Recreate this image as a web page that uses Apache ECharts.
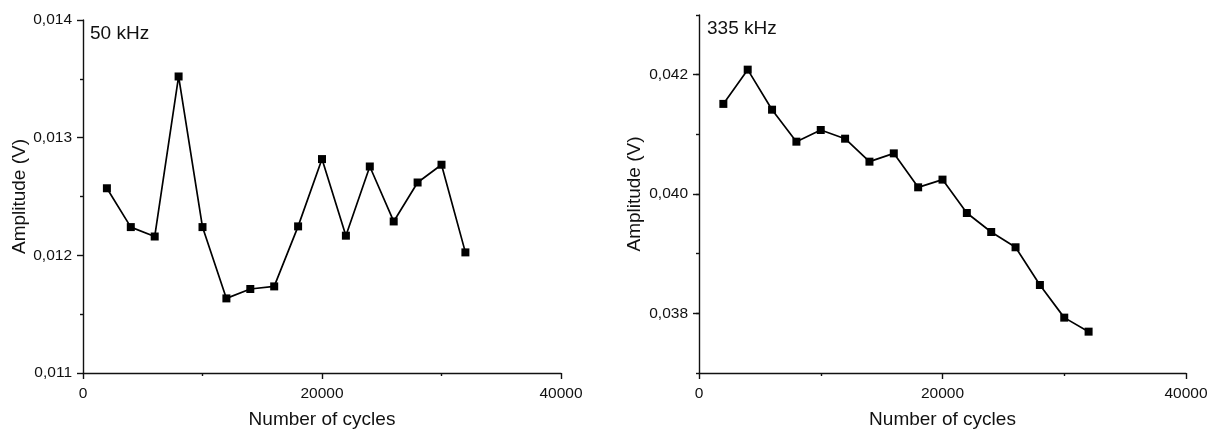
<!DOCTYPE html>
<html>
<head>
<meta charset="utf-8">
<script src="https://cdn.jsdelivr.net/npm/echarts@6/dist/echarts.min.js"></script>
<style>
  html, body { margin: 0; padding: 0; background: #fff; }
  #chart { width: 1214px; height: 431px; }
</style>
</head>
<body>
<div id="chart"></div>
<script>
// cycles (shared by both panels)
const cycles = [2000, 4000, 6000, 8000, 10000, 12000, 14000, 16000, 18000, 20000, 22000, 24000, 26000, 28000, 30000, 32000]
// amplitude at 50 kHz
const amp50 = [0.01257, 0.01224, 0.01216, 0.01352, 0.01224, 0.011634, 0.011714, 0.011736, 0.012246, 0.012818, 0.012167, 0.012755, 0.012288, 0.012619, 0.01277, 0.012025]
// amplitude at 335 kHz
const amp335 = [0.04151, 0.042084, 0.041413, 0.040877, 0.041073, 0.040927, 0.040542, 0.040681, 0.040112, 0.040241, 0.039682, 0.039363, 0.039107, 0.038475, 0.037928, 0.037693]
// labelled ticks on the 335 kHz amplitude axis
const ticks335 = [0.038, 0.040, 0.042]

const font = 'Liberation Sans, Arial, sans-serif'
const ink = '#111'

function comma(v) {
    return v.toFixed(3).replace('.', ',')
}
function pairs(ys) {
    return cycles.map((x, i) => [x, ys[i]])
}

let xAxisBase = gridIndex => ({
    type: 'value', gridIndex,
    min: 0, max: 40000, interval: 20000,
    name: 'Number of cycles', nameLocation: 'middle', nameGap: 37,
    nameTextStyle: { fontFamily: font, fontSize: 19, color: ink },
    axisLine: { show: true, onZero: false, lineStyle: { color: ink, width: 1.4 } },
    axisTick: { show: true, length: 6, lineStyle: { color: ink, width: 1.4 } },
    minorTick: { show: true, splitNumber: 2, length: 3, lineStyle: { color: ink, width: 1.4 } },
    axisLabel: { fontFamily: font, fontSize: 15.5, color: ink, margin: 13, formatter: v => String(v) },
    splitLine: { show: false }
})

let yName = {
    name: 'Amplitude (V)', nameLocation: 'middle',
    nameTextStyle: { fontFamily: font, fontSize: 19, color: ink }
}

let seriesBase = {
    type: 'line',
    symbol: 'rect', symbolSize: 8,
    itemStyle: { color: '#000' },
    lineStyle: { color: '#000', width: 1.7 },
    animation: false
}

let titleStyle = { fontFamily: font, fontSize: 19, fontWeight: 'normal', color: ink }

let option = {
    backgroundColor: '#fff',
    animation: false,
    title: [
        { text: '50 kHz', left: 85, top: 19, textStyle: titleStyle },
        { text: '335 kHz', left: 702, top: 14, textStyle: titleStyle }
    ],
    grid: [
        { left: 83, right: 653, top: 20, bottom: 58, outerBoundsMode: 'none', containLabel: false },
        { left: 699, right: 28, top: 15, bottom: 58, outerBoundsMode: 'none', containLabel: false }
    ],
    xAxis: [xAxisBase(0), xAxisBase(1)],
    yAxis: [
        {
            ...yName, nameGap: 54,
            type: 'value', gridIndex: 0,
            min: 0.011, max: 0.014, interval: 0.001,
            axisLine: { show: true, lineStyle: { color: ink, width: 1.4 } },
            axisTick: { show: true, length: 6, lineStyle: { color: ink, width: 1.4 } },
            minorTick: { show: true, splitNumber: 2, length: 3, lineStyle: { color: ink, width: 1.4 } },
            axisLabel: { fontFamily: font, fontSize: 15.5, color: ink, margin: 11, formatter: comma },
            splitLine: { show: false }
        },
        {
            ...yName, nameGap: 55,
            type: 'value', gridIndex: 1, position: 'left',
            min: 0.037, max: 0.043, interval: 0.001,
            axisLine: { show: true, lineStyle: { color: ink, width: 1.4 } },
            axisTick: { show: true, length: 3, lineStyle: { color: ink, width: 1.4 } },
            axisLabel: {
                fontFamily: font, fontSize: 15.5, color: ink, margin: 11,
                formatter: v => (Math.round(v * 1000) % 2 === 0 ? comma(v) : '')
            },
            splitLine: { show: false }
        },
        {
            // long ticks only for the labelled values
            type: 'value', gridIndex: 1, position: 'left',
            min: 0.037, max: 0.043, interval: 0.001,
            axisLine: { show: false },
            axisTick: { show: true, length: 6, customValues: ticks335, lineStyle: { color: ink, width: 1.4 } },
            axisLabel: { show: false },
            splitLine: { show: false }
        }
    ],
    series: [
        { ...seriesBase, xAxisIndex: 0, yAxisIndex: 0, data: pairs(amp50) },
        { ...seriesBase, xAxisIndex: 1, yAxisIndex: 1, data: pairs(amp335) }
    ]
}

let chart = echarts.init(document.getElementById('chart'), null, { renderer: 'canvas' })
chart.setOption(option)
</script>
</body>
</html>
